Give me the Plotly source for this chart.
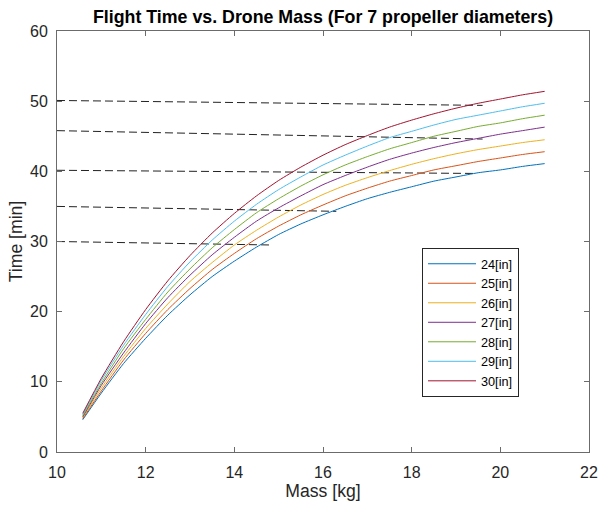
import plotly.graph_objects as go

# ---- data ----
mass = [10.58, 11.0, 11.5, 12.0, 12.5, 13.0, 13.5, 14.0, 14.5, 15.0, 15.5,
        16.0, 16.5, 17.0, 17.5, 18.0, 18.5, 19.0, 19.5, 20.0, 20.5, 21.0]

t24 = [4.6, 8.4, 12.6, 16.2, 19.5, 22.4, 25.0, 27.2, 29.2, 31.0, 32.5,
       33.8, 35.0, 36.1, 37.0, 37.8, 38.6, 39.2, 39.8, 40.2, 40.7, 41.1]
t25 = [4.75, 8.7, 13.1, 16.9, 20.3, 23.3, 26.0, 28.3, 30.4, 32.2, 33.8,
       35.2, 36.5, 37.6, 38.6, 39.4, 40.2, 40.8, 41.4, 41.9, 42.4, 42.8]
t26 = [4.9, 9.1, 13.6, 17.6, 21.1, 24.3, 27.0, 29.5, 31.6, 33.5, 35.2,
       36.7, 38.0, 39.1, 40.1, 41.0, 41.8, 42.5, 43.1, 43.6, 44.1, 44.5]
t27 = [5.0, 9.5, 14.1, 18.3, 22.0, 25.2, 28.1, 30.6, 32.9, 34.8, 36.5,
       38.1, 39.4, 40.6, 41.7, 42.6, 43.4, 44.1, 44.7, 45.3, 45.8, 46.3]
t28 = [5.15, 9.8, 14.7, 18.9, 22.8, 26.1, 29.1, 31.7, 34.1, 36.1, 37.9,
       39.5, 40.9, 42.1, 43.2, 44.1, 45.0, 45.7, 46.4, 46.9, 47.5, 48.0]
t29 = [5.3, 10.2, 15.2, 19.6, 23.6, 27.1, 30.2, 32.9, 35.3, 37.4, 39.2,
       40.9, 42.3, 43.6, 44.8, 45.7, 46.6, 47.4, 48.0, 48.6, 49.2, 49.7]
t30 = [5.5, 10.5, 15.7, 20.3, 24.4, 28.0, 31.2, 34.0, 36.5, 38.7, 40.6,
       42.3, 43.8, 45.1, 46.3, 47.3, 48.2, 49.0, 49.7, 50.3, 50.9, 51.4]

series = [t24, t25, t26, t27, t28, t29, t30]
labels = ["24[in]", "25[in]", "26[in]", "27[in]", "28[in]", "29[in]", "30[in]"]
colors = ["#0072BD", "#D95319", "#EDB120", "#7E2F8E", "#77AC30", "#4DBEEE", "#A2142F"]

# dashed reference lines: start/end mass and time
dash_x0 = [10, 10, 10, 10, 10]
dash_x1 = [19.6, 19.6, 19.4, 16.3, 14.85]
dash_y0 = [50.1, 45.8, 40.15, 35.0, 30.0]
dash_y1 = [49.4, 44.6, 39.7, 34.3, 29.5]

x_ticks = [10, 12, 14, 16, 18, 20, 22]
y_ticks = [0, 10, 20, 30, 40, 50, 60]

FONT = "Liberation Sans, Arial, Helvetica, sans-serif"
TXT = "#262626"
AX = "#6b6b6b"

fig = go.Figure()

for xa, xb, ya, yb in zip(dash_x0, dash_x1, dash_y0, dash_y1):
    fig.add_trace(go.Scatter(x=[xa, xb], y=[ya, yb], mode="lines",
                             line=dict(color="#222222", width=1, dash="8px,4px"),
                             showlegend=False, hoverinfo="skip"))

for ys, lab, col in zip(series, labels, colors):
    fig.add_trace(go.Scatter(x=mass, y=ys, mode="lines", name=lab,
                             line=dict(color=col, width=1, shape="spline", smoothing=0.6)))

axis_common = dict(showline=True, linecolor=AX, linewidth=1, mirror="ticks",
                   ticks="inside", ticklen=5, tickcolor=AX, tickwidth=1,
                   showgrid=False, zeroline=False, automargin=False,
                   tickfont=dict(family=FONT, size=16, color=TXT))

fig.update_layout(
    width=600, height=507,
    margin=dict(l=57, r=11, t=31, b=55),
    paper_bgcolor="white", plot_bgcolor="white",
    title=dict(text="<b>Flight Time vs. Drone Mass (For 7 propeller diameters)</b>",
               x=(57 + 589) / 2 / 600, xanchor="center", xref="container",
               y=1 - 16.5 / 507, yanchor="middle", yref="container",
               font=dict(family=FONT, size=17.8, color="black")),
    xaxis=dict(range=[10, 22], tickvals=x_ticks,
               title=dict(text="Mass [kg]", font=dict(family=FONT, size=17.6, color=TXT), standoff=3),
               ticklabelstandoff=6, **axis_common),
    yaxis=dict(range=[0, 60], tickvals=y_ticks,
               title=dict(text="Time [min]", font=dict(family=FONT, size=17.6, color=TXT), standoff=2),
               ticklabelstandoff=5, **axis_common),
    legend=dict(x=(422 - 57) / 532, y=(452 - 248) / 421, xanchor="left", yanchor="top",
                bgcolor="white", bordercolor=TXT, borderwidth=1,
                font=dict(family=FONT, size=12.7, color="black"),
                itemwidth=48, tracegroupgap=0),
    showlegend=True,
)

fig.write_html("out.html", config={"displayModeBar": False},
               post_script="document.body.style.margin='0';document.body.style.overflow='hidden';")
